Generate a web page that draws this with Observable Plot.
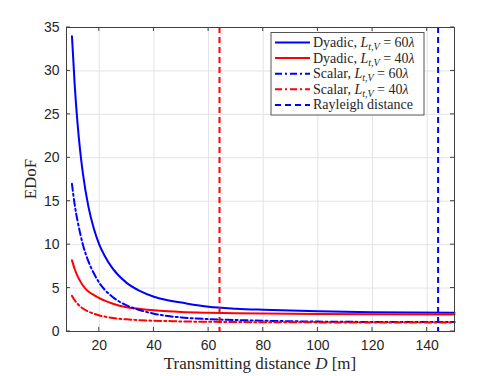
<!DOCTYPE html>
<html><head><meta charset="utf-8">
<script src="https://cdn.jsdelivr.net/npm/d3@7"></script>
<script src="https://cdn.jsdelivr.net/npm/@observablehq/plot@0.6"></script>
<style>body{margin:0;background:#fff} svg{display:block}</style>
</head><body><div id="chart"></div>
<script>
// Transmitting distance D [m]
const distance = [10,11,12,13,14,16,18,20,22,25,30,35,40,45,50,60,70,80,100,120,150];
const dyadic60 = [34,28.4,24.1,20.8,18.2,14.4,11.85,10.0,8.7,7.2,5.6,4.65,4.0,3.6,3.33,2.85,2.63,2.5,2.32,2.22,2.15];
const dyadic40 = [8.2,7.2,6.4,5.8,5.3,4.6,4.2,3.85,3.55,3.2,2.8,2.6,2.44,2.33,2.25,2.16,2.1,2.06,2.01,1.98,1.96];
const scalar60 = [17,14.6,12.8,11.3,10.0,8.1,6.7,5.6,4.8,3.95,3.0,2.45,2.05,1.78,1.62,1.42,1.32,1.24,1.14,1.1,1.08];
const scalar40 = [4.1,3.6,3.2,2.9,2.65,2.3,2.05,1.85,1.72,1.55,1.4,1.3,1.24,1.2,1.16,1.12,1.09,1.07,1.05,1.04,1.03];
const rayleighDistance = [144, 64]; // 60λ, 40λ
const xTicks = [20,40,60,80,100,120,140];
const yTicks = [0,5,10,15,20,25,30,35];
const seriesNames = ["Dyadic", "Dyadic", "Scalar", "Scalar", "Rayleigh distance"];
const seriesL = ["60", "40", "60", "40", null];

const BLUE = "#0000ff", RED = "#ff0000";
const DASHDOT = "7,3,2,3", DASHED = "6,4";
const series = [
  {values: dyadic60, color: BLUE, dash: null},
  {values: dyadic40, color: RED, dash: null},
  {values: scalar60, color: BLUE, dash: DASHDOT},
  {values: scalar40, color: RED, dash: DASHDOT}
];

const W = 502, H = 376, mL = 66, mR = 48, mT = 27, mB = 45;

const lineMarks = series.map(s => Plot.line(
  distance.map((d, i) => ({D: d, v: s.values[i]})),
  {x: "D", y: "v", stroke: s.color, strokeWidth: 2, curve: "monotone-x",
   strokeDasharray: s.dash || undefined}
));

const plot = Plot.plot({
  width: W, height: H,
  marginLeft: mL, marginRight: mR, marginTop: mT, marginBottom: mB,
  style: {fontFamily: "'Liberation Sans', Arial, sans-serif", fontSize: "14px", color: "#262626", background: "#fff"},
  x: {domain: [8, 150]},
  y: {domain: [0, 35]},
  marks: [
    Plot.gridX(xTicks, {stroke: "#e3e3e3", strokeOpacity: 1}),
    Plot.gridY(yTicks, {stroke: "#e3e3e3", strokeOpacity: 1}),
    Plot.axisX(xTicks, {anchor: "bottom", tickSize: 0, tickPadding: 9, label: null, fill: "#262626"}),
    Plot.axisY(yTicks, {anchor: "left", tickSize: 0, tickPadding: 7, label: null, fill: "#262626"}),
    ...lineMarks,
    Plot.ruleX([rayleighDistance[1]], {stroke: RED, strokeWidth: 2, strokeDasharray: DASHED}),
    Plot.ruleX([rayleighDistance[0]], {stroke: BLUE, strokeWidth: 2, strokeDasharray: DASHED}),
    Plot.frame({stroke: "#404040", strokeWidth: 1})
  ]
});

const svg = d3.select(plot);
const xs = plot.scale("x"), ys = plot.scale("y");
const tk = 4;
const tg = svg.append("g").attr("stroke", "#404040").attr("stroke-width", 1);
xTicks.forEach(t => {
  const x = xs.apply(t);
  tg.append("line").attr("x1", x).attr("x2", x).attr("y1", H - mB).attr("y2", H - mB - tk);
  tg.append("line").attr("x1", x).attr("x2", x).attr("y1", mT).attr("y2", mT + tk);
});
yTicks.forEach(t => {
  const y = ys.apply(t);
  tg.append("line").attr("y1", y).attr("y2", y).attr("x1", mL).attr("x2", mL + tk);
  tg.append("line").attr("y1", y).attr("y2", y).attr("x1", W - mR).attr("x2", W - mR - tk);
});

const SERIF = "'Liberation Serif', 'Times New Roman', serif";
// x label
const xl = svg.append("text").attr("x", (mL + W - mR) / 2).attr("y", 369)
  .attr("text-anchor", "middle").style("font-family", SERIF).style("font-size", "17px").attr("fill", "#262626");
xl.append("tspan").text("Transmitting distance ");
xl.append("tspan").style("font-style", "italic").text("D");
xl.append("tspan").text(" [m]");
// y label
svg.append("text").attr("transform", `translate(36,${(mT + H - mB) / 2}) rotate(-90)`)
  .attr("text-anchor", "middle").style("font-family", SERIF).style("font-size", "17px").attr("fill", "#262626")
  .text("EDoF");

// legend
const lg = svg.append("g").attr("text-anchor", "start");
lg.append("rect").attr("x", 271).attr("y", 32.5).attr("width", 153).attr("height", 82.5)
  .attr("fill", "#fff").attr("stroke", "#555").attr("stroke-width", 1);
const legendItems = [
  {color: BLUE, dash: null}, {color: RED, dash: null},
  {color: BLUE, dash: DASHDOT}, {color: RED, dash: DASHDOT},
  {color: BLUE, dash: DASHED}
];
legendItems.forEach((it, i) => {
  const y = 42.5 + i * 15.6;
  lg.append("line").attr("x1", 275).attr("x2", 310).attr("y1", y).attr("y2", y)
    .attr("stroke", it.color).attr("stroke-width", 2).attr("stroke-dasharray", it.dash);
  const t = lg.append("text").attr("x", 313).attr("y", y + 4.5).attr("text-anchor", "start")
    .style("font-family", SERIF).style("font-size", "14px").attr("fill", "#262626");
  if (seriesL[i]) {
    t.append("tspan").text(seriesNames[i] + ", ");
    t.append("tspan").style("font-style", "italic").text("L");
    t.append("tspan").style("font-style", "italic").style("font-size", "10px").attr("dy", 3).text("t,V");
    t.append("tspan").attr("dy", -3).text(" = " + seriesL[i]);
    t.append("tspan").style("font-style", "italic").text("λ");
  } else {
    t.text(seriesNames[i]);
  }
});

document.getElementById("chart").appendChild(plot);
</script>
</body></html>
